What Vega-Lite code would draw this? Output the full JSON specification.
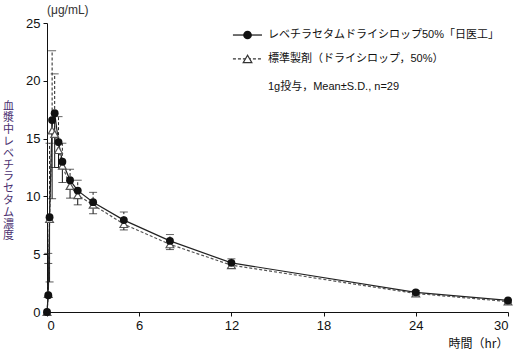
{
  "$schema": "https://vega.github.io/schema/vega-lite/v6.json",
  "autosize": "none",
  "width": 461,
  "height": 289,
  "padding": {"left": 47, "top": 23, "right": 10, "bottom": 39},
  "background": "white",
  "title": {"text": "(μg/mL)", "anchor": "start", "frame": "group", "fontSize": 12, "fontWeight": "normal", "font": "Liberation Sans", "offset": 0, "color": "#333"},
  "config": {
    "view": {"stroke": null},
    "font": "Liberation Sans, Noto Sans CJK JP",
    "axis": {"grid": false, "domainColor": "#111", "tickColor": "#111", "labelColor": "#111", "labelFont": "Liberation Sans", "labelFontSize": 13, "tickSize": 4, "domainWidth": 1, "tickWidth": 1}
  },
  "datasets": {
    "pk": [
      {"series": "A", "t": 0, "c": 0},
      {"series": "A", "t": 0.083, "c": 1.45},
      {"series": "A", "t": 0.167, "c": 8.2},
      {"series": "A", "t": 0.333, "c": 16.6},
      {"series": "A", "t": 0.5, "c": 17.2},
      {"series": "A", "t": 0.75, "c": 14.7},
      {"series": "A", "t": 1, "c": 13.0},
      {"series": "A", "t": 1.5, "c": 11.4},
      {"series": "A", "t": 2, "c": 10.5},
      {"series": "A", "t": 3, "c": 9.5},
      {"series": "A", "t": 5, "c": 7.95},
      {"series": "A", "t": 8, "c": 6.15},
      {"series": "A", "t": 12, "c": 4.25},
      {"series": "A", "t": 24, "c": 1.7},
      {"series": "A", "t": 30, "c": 1.0},
      {"series": "B", "t": 0, "c": 0},
      {"series": "B", "t": 0.083, "c": 1.55},
      {"series": "B", "t": 0.167, "c": 8.05},
      {"series": "B", "t": 0.333, "c": 15.7},
      {"series": "B", "t": 0.5, "c": 15.4},
      {"series": "B", "t": 0.75, "c": 14.0},
      {"series": "B", "t": 1, "c": 12.65},
      {"series": "B", "t": 1.5, "c": 10.9},
      {"series": "B", "t": 2, "c": 10.1},
      {"series": "B", "t": 3, "c": 9.27},
      {"series": "B", "t": 5, "c": 7.6},
      {"series": "B", "t": 8, "c": 5.85},
      {"series": "B", "t": 12, "c": 4.05},
      {"series": "B", "t": 24, "c": 1.6},
      {"series": "B", "t": 30, "c": 0.9}
    ],
    "bars": [
      {"series": "A", "t": 0.083, "c": 1.45, "err": 4.2},
      {"series": "A", "t": 0.167, "c": 8.2, "err": 2.6},
      {"series": "A", "t": 0.333, "c": 16.6, "err": 9.8},
      {"series": "A", "t": 0.5, "c": 17.2, "err": 12.5},
      {"series": "A", "t": 0.75, "c": 14.7, "err": 12.5},
      {"series": "A", "t": 1, "c": 13.0, "err": 11.2},
      {"series": "A", "t": 1.5, "c": 11.4, "err": 9.85},
      {"series": "A", "t": 2, "c": 10.5, "err": 9.27},
      {"series": "A", "t": 3, "c": 9.5, "err": 8.5},
      {"series": "A", "t": 5, "c": 7.95, "err": 7.1},
      {"series": "A", "t": 8, "c": 6.15, "err": 5.4},
      {"series": "A", "t": 12, "c": 4.25, "err": 3.8},
      {"series": "A", "t": 24, "c": 1.7, "err": 1.5},
      {"series": "A", "t": 30, "c": 1.0, "err": 0.85},
      {"series": "B", "t": 0.083, "c": 1.55, "err": 5.07},
      {"series": "B", "t": 0.167, "c": 8.05, "err": 14.6},
      {"series": "B", "t": 0.333, "c": 15.7, "err": 22.6},
      {"series": "B", "t": 0.5, "c": 15.4, "err": 20.6},
      {"series": "B", "t": 0.75, "c": 14.0, "err": 16.9},
      {"series": "B", "t": 1, "c": 12.65, "err": 14.6},
      {"series": "B", "t": 1.5, "c": 10.9, "err": 12.35},
      {"series": "B", "t": 2, "c": 10.1, "err": 11.4},
      {"series": "B", "t": 3, "c": 9.27, "err": 10.35},
      {"series": "B", "t": 5, "c": 7.6, "err": 8.65},
      {"series": "B", "t": 8, "c": 5.85, "err": 6.7},
      {"series": "B", "t": 12, "c": 4.05, "err": 4.6},
      {"series": "B", "t": 24, "c": 1.6, "err": 1.85},
      {"series": "B", "t": 30, "c": 0.9, "err": 1.05}
    ],
    "legendLines": [
      {"series": "A", "t": 12.1, "t2": 13.99, "c": 23.96},
      {"series": "B", "t": 12.1, "t2": 13.99, "c": 21.89}
    ],
    "legendPoints": [
      {"series": "A", "t": 13.05, "c": 23.96},
      {"series": "B", "t": 13.05, "c": 21.89}
    ],
    "legendText": [
      {"t": 14.38, "c": 23.96, "label": "レベチラセタムドライシロップ50%「日医工」"},
      {"t": 14.38, "c": 21.89, "label": "標準製剤（ドライシロップ，50%）"},
      {"t": 14.38, "c": 19.46, "label": "1g投与，Mean±S.D., n=29"}
    ]
  },
  "encoding": {
    "x": {"field": "t", "type": "quantitative",
      "scale": {"domain": [0, 30], "nice": false, "zero": true},
      "axis": {"values": [0, 6, 12, 18, 24, 30], "title": "時間（hr）", "titleAnchor": "end", "titleAlign": "right", "titleFont": "Noto Sans CJK JP", "titleFontSize": 12, "titleFontWeight": "normal", "titleColor": "#111", "titleBaseline": "alphabetic", "titleY": 35, "labelPadding": 3}},
    "y": {"field": "c", "type": "quantitative",
      "scale": {"domain": [0, 25], "nice": false},
      "axis": {"values": [0, 5, 10, 15, 20, 25], "title": ["血", "漿", "中", "レ", "ベ", "チ", "ラ", "セ", "タ", "ム", "濃", "度"], "titleAngle": 0, "titleAlign": "center", "titleBaseline": "top", "titleX": -39, "titleY": 77, "titleLineHeight": 11.8, "titleFont": "Noto Sans CJK JP", "titleFontSize": 11, "titleFontWeight": "normal", "titleColor": "#4a3070", "labelPadding": 3}}
  },
  "layer": [
    {"data": {"name": "bars"}, "transform": [{"filter": "datum.series === 'A'"}],
      "mark": {"type": "rule", "color": "#111", "strokeWidth": 1},
      "encoding": {"y2": {"field": "err"}}},
    {"data": {"name": "bars"}, "transform": [{"filter": "datum.series === 'A'"}],
      "mark": {"type": "tick", "orient": "horizontal", "size": 8, "thickness": 1, "color": "#111"},
      "encoding": {"y": {"field": "err", "type": "quantitative"}}},
    {"data": {"name": "bars"}, "transform": [{"filter": "datum.series === 'B'"}],
      "mark": {"type": "rule", "color": "#222", "strokeWidth": 1, "strokeDash": [3, 2]},
      "encoding": {"y2": {"field": "err"}}},
    {"data": {"name": "bars"}, "transform": [{"filter": "datum.series === 'B'"}],
      "mark": {"type": "tick", "orient": "horizontal", "size": 8, "thickness": 1, "color": "#222", "strokeDash": [3, 2]},
      "encoding": {"y": {"field": "err", "type": "quantitative"}}},
    {"data": {"name": "pk"}, "transform": [{"filter": "datum.series === 'B'"}],
      "mark": {"type": "line", "color": "#555", "strokeWidth": 1.2, "strokeDash": [3, 2]},
      "encoding": {}},
    {"data": {"name": "pk"}, "transform": [{"filter": "datum.series === 'A'"}],
      "mark": {"type": "line", "color": "#222", "strokeWidth": 1.2},
      "encoding": {}},
    {"data": {"name": "pk"}, "transform": [{"filter": "datum.series === 'B'"}],
      "mark": {"type": "point", "shape": "triangle-up", "filled": true, "fill": "white", "stroke": "#555", "strokeWidth": 1.2, "size": 60, "opacity": 1},
      "encoding": {}},
    {"data": {"name": "pk"}, "transform": [{"filter": "datum.series === 'A'"}],
      "mark": {"type": "circle", "color": "#111", "size": 62, "opacity": 1},
      "encoding": {}},
    {"data": {"name": "legendLines"}, "transform": [{"filter": "datum.series === 'A'"}],
      "mark": {"type": "rule", "color": "#111", "strokeWidth": 1.2},
      "encoding": {"x2": {"field": "t2"}}},
    {"data": {"name": "legendLines"}, "transform": [{"filter": "datum.series === 'B'"}],
      "mark": {"type": "rule", "color": "#333", "strokeWidth": 1.2, "strokeDash": [3, 2]},
      "encoding": {"x2": {"field": "t2"}}},
    {"data": {"name": "legendPoints"}, "transform": [{"filter": "datum.series === 'A'"}],
      "mark": {"type": "circle", "color": "#111", "size": 75, "opacity": 1},
      "encoding": {}},
    {"data": {"name": "legendPoints"}, "transform": [{"filter": "datum.series === 'B'"}],
      "mark": {"type": "point", "shape": "triangle-up", "filled": true, "fill": "white", "stroke": "#333", "strokeWidth": 1.2, "size": 75, "opacity": 1},
      "encoding": {}},
    {"data": {"name": "legendText"},
      "mark": {"type": "text", "align": "left", "baseline": "middle", "fontSize": 11, "font": "Liberation Sans, Noto Sans CJK JP", "color": "#111"},
      "encoding": {"text": {"field": "label"}}}
  ]
}
